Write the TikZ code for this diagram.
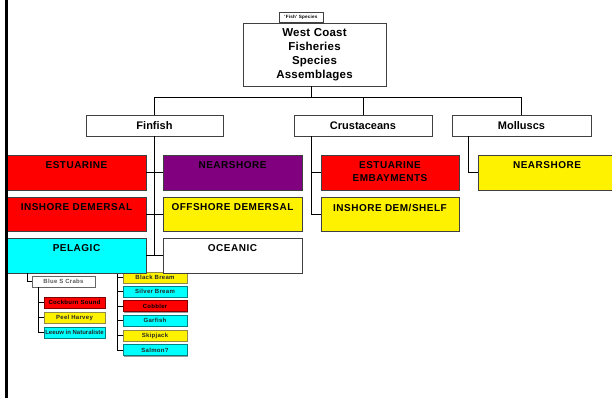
\documentclass[tikz,border=0pt]{standalone}
\usepackage{fontspec}
\setmainfont{Liberation Sans}
\newfontfamily\lsfont[LetterSpace=5]{Liberation Sans}
\newfontfamily\lsfontb[LetterSpace=2]{Liberation Sans}
\usetikzlibrary{shadows,calc}
\definecolor{cyanb}{RGB}{0,255,255}
\definecolor{purp}{RGB}{128,0,128}
\begin{document}
\begin{tikzpicture}[x=1pt,y=-1pt,
  box/.style={draw=black!75, line width=0.8pt, inner sep=0pt,
    drop shadow={shadow xshift=1.2pt, shadow yshift=-1.2pt, fill=black!40, opacity=1}},
  bigbox/.style={box, minimum width=139pt, minimum height=35pt},
  catbox/.style={box, fill=white, minimum height=21pt, font=\bfseries\fontsize{11}{13}\selectfont},
  bigtxt/.style={anchor=north, inner sep=0pt, align=center, text=black,
    font=\lsfont\bfseries\fontsize{10}{13}\selectfont},
  smallbox/.style={box, line width=0.6pt, minimum width=61pt, minimum height=11pt,
    font=\lsfont\bfseries\fontsize{6}{6.5}\selectfont, text=black!85},
  conn/.style={draw=black, line width=1pt}
]
\useasboundingbox (0,0) rectangle (612,398);
\fill[white] (0,0) rectangle (612,398);
\clip (0,0) rectangle (612,398);

% top
\node[box, fill=white, minimum width=44pt, minimum height=10pt, line width=0.5pt,
  font=\lsfont\bfseries\fontsize{4.6}{5}\selectfont] (fishsp) at (301,17) {'Fish' Species};
\node[box, fill=white, minimum width=143pt, minimum height=63pt, align=center,
  font=\lsfontb\bfseries\fontsize{11.5}{14}\selectfont] (wc) at (314.5,54.5)
  {West Coast\\Fisheries\\Species\\Assemblages};

% categories
\node[catbox, minimum width=137pt] (finfish) at (154.5,125.5) {Finfish};
\node[catbox, minimum width=138pt] (crust) at (363,125.5) {Crustaceans};
\node[catbox, minimum width=139pt] (moll) at (521.5,125.5) {Molluscs};

\coordinate (wcb) at ($(wc.south)+(-3,0)$);
\coordinate (jn) at ($(wcb)+(0,11)$);
\draw[conn] (wcb) -- (jn);
\draw[conn] (finfish.north) |- (jn) -| (moll.north);
\draw[conn] (crust.north) -- (crust.north |- jn);

% finfish connectors
\draw[conn] (finfish.south) -- (finfish.south |- 0,255.5);

% small-box connectors (drawn before covering boxes)
\coordinate (rc) at (117,273);
\coordinate (lc) at (27,273);

% right column small boxes
\node[smallbox, fill=yellow, draw=yellow!50!black, minimum width=64pt] (bbream) at (155,277.5) {Black Bream};
\node[smallbox, fill=cyanb, draw=cyanb!50!black, minimum width=64pt] (silver) at (155,291.5) {Silver Bream};
\node[smallbox, fill=red, draw=red!50!black, minimum width=64pt, text=black] (cobbler) at (155,306) {Cobbler};
\node[smallbox, fill=cyanb, draw=cyanb!50!black, minimum width=64pt] (garfish) at (155,320.5) {Garfish};
\node[smallbox, fill=yellow, draw=yellow!50!black, minimum width=64pt] (skip) at (155,335.5) {Skipjack};
\node[smallbox, fill=cyanb, draw=cyanb!50!black, minimum width=64pt] (salmon) at (155,350) {Salmon?};
\foreach \n in {bbream,silver,cobbler,garfish,skip,salmon}
  \draw[conn] (rc) |- (\n.west);

% finfish habitat boxes
\node[bigbox, fill=red] (estF) at (76.5,172.5) {};
\node[bigtxt] (estFt) at ($(estF.north)+(0,7)$) {ESTUARINE};
\node[bigbox, fill=purp] (nearF) at (232.5,172.5) {};
\node[bigtxt] (nearFt) at ($(nearF.north)+(0,7)$) {NEARSHORE};
\node[bigbox, fill=red, minimum height=34pt] (inshF) at (76.5,214) {};
\node[bigtxt] (inshFt) at ($(inshF.north)+(0,7)$) {INSHORE DEMERSAL};
\node[bigbox, fill=yellow, minimum height=34pt] (offF) at (232.5,214) {};
\node[bigtxt] (offFt) at ($(offF.north)+(0,7)$) {OFFSHORE DEMERSAL};
\node[bigbox, fill=cyanb] (pelag) at (76.5,255.5) {};
\node[bigtxt] (pelagt) at ($(pelag.north)+(0,7)$) {PELAGIC};
\node[bigbox, fill=white] (ocean) at (232.5,255.5) {};
\node[bigtxt] (oceant) at ($(ocean.north)+(0,7)$) {OCEANIC};
\draw[conn] (estF.east) -- (nearF.west);
\draw[conn] (inshF.east) -- (offF.west);
\draw[conn] (pelag.east) -- (ocean.west);

% crustacean boxes
\node[bigbox, fill=red, minimum width=138pt] (estE) at (390,172.5) {};
\node[bigtxt] (estEt) at ($(estE.north)+(0,7)$) {ESTUARINE\\EMBAYMENTS};
\node[bigbox, fill=yellow, minimum width=138pt, minimum height=34pt] (inshE) at (390,214) {};
\node[bigtxt] (inshEt) at ($(inshE.north)+(0,7)$) {INSHORE DEM/SHELF};
\draw[conn] ($(crust.south west)+(18,0)$) |- (estE.west);
\draw[conn] ($(crust.south west)+(18,0)$) |- (inshE.west);

% mollusc box
\node[bigbox, fill=yellow, minimum width=138pt] (nearM) at (547,172.5) {};
\node[bigtxt] (nearMt) at ($(nearM.north)+(0,7)$) {NEARSHORE};
\draw[conn] ($(moll.south west)+(17,0)$) |- (nearM.west);

% blue s crabs group
\node[smallbox, fill=white, draw=black!60, minimum width=63pt, text=black!65] (crabs) at (63.5,281.5) {Blue S Crabs};
\draw[conn] (pelag.south -| lc) |- (crabs.west);
\node[smallbox, fill=red, draw=red!50!black, text=black] (cock) at (74.5,302.5) {Cockburn Sound};
\node[smallbox, fill=yellow, draw=yellow!50!black] (peel) at (74.5,317.5) {Peel Harvey};
\node[smallbox, fill=cyanb, draw=cyanb!50!black, minimum width=61pt,
  font=\bfseries\fontsize{6}{6.5}\selectfont] (leeuw) at (74.5,332.5) {Leeuw in Naturaliste};
\foreach \n in {cock,peel,leeuw}
  \draw[conn] ($(crabs.south west)+(7,0)$) |- (\n.west);

% left border bar
\fill[black] (5,0) rectangle (7.5,398);
\end{tikzpicture}
\end{document}
